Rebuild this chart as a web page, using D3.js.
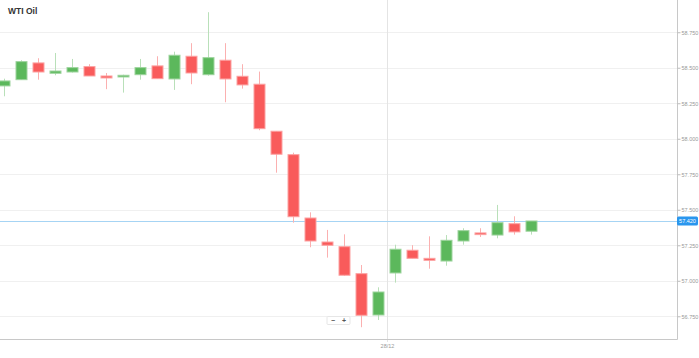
<!DOCTYPE html>
<html>
<head>
<meta charset="utf-8">
<script src="https://cdn.jsdelivr.net/npm/d3@7"></script>
<style>
  body { margin: 0; background: #fff; }
  svg { display: block; font-family: "Liberation Sans", Arial, sans-serif; }
</style>
</head>
<body>
<div id="chart"></div>
<script>
// candles (one per slot, left to right)
var opens  = [58.372, 58.416, 58.534, 58.461, 58.470, 58.508, 58.442, 58.435, 58.451, 58.513,
              58.421, 58.581, 58.451, 58.553, 58.440, 58.384, 58.053, 57.888, 57.442, 57.273,
              57.240, 57.050, 56.759, 57.055, 57.215, 57.158, 57.139, 57.280, 57.337, 57.322,
              57.402, 57.349];
var closes = [58.407, 58.543, 58.470, 58.477, 58.501, 58.442, 58.428, 58.447, 58.501, 58.423,
              58.588, 58.463, 58.571, 58.421, 58.379, 58.071, 57.891, 57.451, 57.280, 57.250,
              57.039, 56.757, 56.921, 57.222, 57.158, 57.144, 57.285, 57.353, 57.325, 57.409,
              57.344, 57.421];
var highs  = [58.423, 58.553, 58.567, 58.604, 58.562, 58.525, 58.463, 58.451, 58.562, 58.581,
              58.613, 58.673, 58.891, 58.673, 58.525, 58.473, 58.053, 57.902, 57.482, 57.358,
              57.327, 57.111, 56.954, 57.254, 57.251, 57.313, 57.322, 57.370, 57.370, 57.534,
              57.454, 57.421];
var lows   = [58.299, 58.414, 58.416, 58.447, 58.466, 58.442, 58.349, 58.325, 58.416, 58.423,
              58.344, 58.384, 58.444, 58.257, 58.353, 58.060, 57.761, 57.409, 57.236, 57.163,
              57.035, 56.673, 56.724, 56.987, 57.158, 57.085, 57.106, 57.254, 57.308, 57.299,
              57.325, 57.325];

var yTicks = [56.75, 57.0, 57.25, 57.5, 57.75, 58.0, 58.25, 58.5, 58.75];
var lastPrice = 57.421;
var lastLabel = "57.420";
var dayBreak = 22.5;      // slot position of the day divider
var dayLabel = "28/12";
var title = "WTI Oil";

var width = 699, height = 358;
var plotRight = 677, plotBottom = 339;

var svg = d3.select("#chart").append("svg")
  .attr("width", width)
  .attr("height", height);

var x = d3.scaleLinear().domain([0, 31]).range([4, 531]);
var y = d3.scaleLinear().domain([56.590, 58.977]).range([plotBottom, 0]);

svg.append("clipPath").attr("id", "plotclip")
  .append("rect").attr("x", 0).attr("y", 0).attr("width", plotRight).attr("height", plotBottom);

// grid
svg.append("g").selectAll("line")
  .data(yTicks)
  .join("line")
  .attr("x1", 0).attr("x2", plotRight)
  .attr("y1", d => Math.round(y(d)) + 0.5).attr("y2", d => Math.round(y(d)) + 0.5)
  .attr("stroke", "#f0f0f0");

// day divider
svg.append("line")
  .attr("x1", Math.round(x(dayBreak)) + 0.5).attr("x2", Math.round(x(dayBreak)) + 0.5)
  .attr("y1", 0).attr("y2", plotBottom + 3)
  .attr("stroke", "#e4e4e4");

// current price line
svg.append("line")
  .attr("x1", 0).attr("x2", plotRight)
  .attr("y1", Math.round(y(lastPrice)) + 0.5).attr("y2", Math.round(y(lastPrice)) + 0.5)
  .attr("stroke", "#a6d4f4");

// candles
var candles = opens.map((o, i) => ({ i: i, o: o, c: closes[i], h: highs[i], l: lows[i] }));
var g = svg.append("g").attr("clip-path", "url(#plotclip)");
var bodyW = 11;

g.selectAll(".wick")
  .data(candles)
  .join("line")
  .attr("class", "wick")
  .attr("x1", d => Math.round(x(d.i)) + 0.5).attr("x2", d => Math.round(x(d.i)) + 0.5)
  .attr("y1", d => y(d.h)).attr("y2", d => y(d.l))
  .attr("stroke", d => d.c >= d.o ? "#b9e0b9" : "#fbb0b0");

g.selectAll(".body")
  .data(candles)
  .join("rect")
  .attr("class", "body")
  .attr("x", d => Math.round(x(d.i)) - bodyW / 2 + 0.5)
  .attr("width", bodyW)
  .attr("y", d => y(Math.max(d.o, d.c)))
  .attr("height", d => Math.max(1.5, Math.abs(y(d.o) - y(d.c))))
  .attr("fill", d => d.c >= d.o ? "#5cb85c" : "#f95b5b")
  .attr("stroke", d => d.c >= d.o ? "#9ed49e" : "#fca2a2")
  .attr("stroke-width", 1);

// frame
svg.append("line")
  .attr("x1", 0).attr("x2", plotRight + 0.5)
  .attr("y1", plotBottom + 0.5).attr("y2", plotBottom + 0.5)
  .attr("stroke", "#c8c8c8");
svg.append("line")
  .attr("x1", plotRight + 0.5).attr("x2", plotRight + 0.5)
  .attr("y1", 0).attr("y2", plotBottom + 0.5)
  .attr("stroke", "#c8c8c8");

// right axis
var axis = svg.append("g").attr("transform", "translate(" + (plotRight + 0.5) + ",0)")
  .call(d3.axisRight(y).tickValues(yTicks).tickFormat(d3.format(".3f")).tickSize(3).tickPadding(1));
axis.select(".domain").remove();
axis.selectAll(".tick line").attr("stroke", "#bbb");
axis.selectAll(".tick text")
  .attr("fill", "#999")
  .style("font-size", "5.5px")
  .style("font-family", "Liberation Sans, Arial, sans-serif");

// price tag
var tagY = Math.round(y(lastPrice));
svg.append("rect")
  .attr("x", plotRight).attr("y", tagY - 4.5)
  .attr("width", 21).attr("height", 9).attr("rx", 1.5)
  .attr("fill", "#2a96ee");
svg.append("text")
  .attr("x", plotRight + 10.5).attr("y", tagY + 2)
  .attr("text-anchor", "middle")
  .attr("fill", "#fff")
  .style("font-size", "5.5px")
  .text(lastLabel);

// date label
svg.append("text")
  .attr("x", Math.round(x(dayBreak)) + 0.5).attr("y", plotBottom + 9)
  .attr("text-anchor", "middle")
  .attr("fill", "#999")
  .style("font-size", "5.5px")
  .text(dayLabel);

// zoom widget
var zw = svg.append("g").attr("transform", "translate(327,316.5)");
zw.append("rect").attr("width", 23).attr("height", 8).attr("rx", 1)
  .attr("fill", "#fff").attr("stroke", "#e6e6e6");
zw.append("text").attr("x", 6).attr("y", 6.3).attr("text-anchor", "middle")
  .attr("fill", "#555").style("font-size", "7px").style("font-weight", "bold").text("\u2212");
zw.append("text").attr("x", 17).attr("y", 6.5).attr("text-anchor", "middle")
  .attr("fill", "#555").style("font-size", "7px").style("font-weight", "bold").text("+");

// title
svg.append("text")
  .attr("x", 8).attr("y", 14)
  .attr("fill", "#333")
  .style("font-size", "8.5px")
  .style("font-weight", "bold")
  .text(title);
</script>
</body>
</html>
